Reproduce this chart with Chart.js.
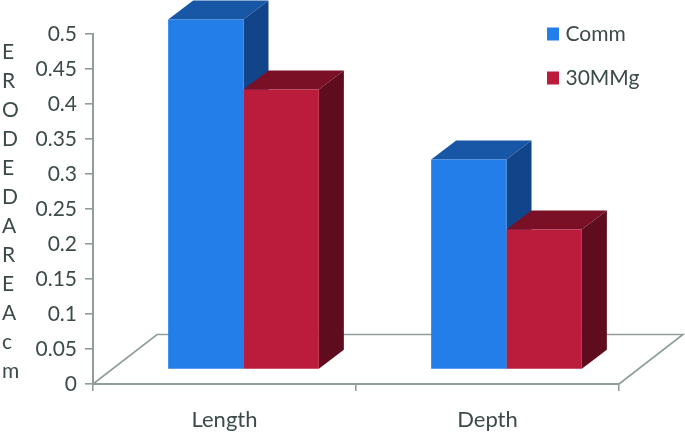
<!DOCTYPE html>
<html>
<head>
<meta charset="utf-8">
<title>Eroded area</title>
<script src="https://cdn.jsdelivr.net/npm/chart.js@4/dist/chart.umd.min.js"></script>
<style>
  html, body { margin: 0; padding: 0; background: #fff; }
  #wrap { width: 685px; height: 434px; }
  #erodedChart { filter: blur(0.5px); }
</style>
</head>
<body>
<div id="wrap"><canvas id="erodedChart" width="685" height="434"></canvas></div>
<script>
const categories = ['Length', 'Depth'];
const commValues = [0.5, 0.3];
const mgValues = [0.4, 0.2];
const tickLabels = ['0', '0.05', '0.1', '0.15', '0.2', '0.25', '0.3', '0.35', '0.4', '0.45', '0.5'];
const yTitleLetters = ['E', 'R', 'O', 'D', 'E', 'D', 'A', 'R', 'E', 'A', 'c', 'm'];

const textColor = '#3d4a4a';
const axisColor = '#8f9e9b';
const fontFamily = 'Lato, "Open Sans", sans-serif';

// faux 3D look: bars sit back from the axis and get a top and side face
const barShift = { x: 19, y: -14.5 };
const barDepth = { x: 25, y: -19 };
const floorDepth = { x: 64, y: -49.5 };

function drawFloor(chart) {
    const ctx = chart.ctx;
    const left = chart.scales.x.left;
    const right = chart.scales.x.right;
    const base = chart.scales.y.getPixelForValue(0);
    ctx.save();
    ctx.strokeStyle = axisColor;
    ctx.lineWidth = 1.6;
    ctx.beginPath();
    ctx.moveTo(left, base);
    ctx.lineTo(left + floorDepth.x, base + floorDepth.y);
    ctx.lineTo(right + floorDepth.x, base + floorDepth.y);
    ctx.lineTo(right, base);
    ctx.stroke();
    ctx.restore();
}

function drawFaces(ctx, bar, ds) {
    const l = bar.x - bar.width / 2;
    const r = bar.x + bar.width / 2;
    ctx.fillStyle = ds.topColor;
    ctx.beginPath();
    ctx.moveTo(l, bar.y);
    ctx.lineTo(l + barDepth.x, bar.y + barDepth.y);
    ctx.lineTo(r + barDepth.x, bar.y + barDepth.y);
    ctx.lineTo(r, bar.y);
    ctx.closePath();
    ctx.fill();
    ctx.fillStyle = ds.sideColor;
    ctx.beginPath();
    ctx.moveTo(r, bar.y);
    ctx.lineTo(r + barDepth.x, bar.y + barDepth.y);
    ctx.lineTo(r + barDepth.x, bar.base + barDepth.y);
    ctx.lineTo(r, bar.base);
    ctx.closePath();
    ctx.fill();
}

const fake3d = {
    id: 'fake3d',
    afterLayout(chart) {
        // put the legend inside the plot, top right
        const legend = chart.legend;
        legend.left = 528;
        legend.right = 685;
        legend.top = 0.5;
        legend.bottom = 200;
    },
    beforeDraw(chart) {
        const ctx = chart.ctx;
        ctx.save();
        ctx.fillStyle = textColor;
        ctx.font = '21px ' + fontFamily;
        ctx.textBaseline = 'middle';
        yTitleLetters.forEach((letter, i) => ctx.fillText(letter, 2, 52 + i * 29));
        ctx.restore();
    },
    beforeDatasetsDraw(chart) {
        const ctx = chart.ctx;
        drawFloor(chart);
        ctx.save();
        ctx.translate(barShift.x, barShift.y);
        // left series first so the red faces land on top of the blue side
        chart.data.datasets.forEach((ds, i) => {
            chart.getDatasetMeta(i).data.forEach(bar => drawFaces(ctx, bar, ds));
        });
        ctx.restore();
    },
    beforeDatasetDraw(chart) {
        chart.ctx.save();
        chart.ctx.translate(barShift.x, barShift.y);
    },
    afterDatasetDraw(chart) {
        chart.ctx.restore();
    }
};

const ctx = document.getElementById('erodedChart').getContext('2d');
const erodedChart = new Chart(ctx, {
    type: 'bar',
    data: {
        labels: categories,
        datasets: [{
            label: 'Comm',
            data: commValues,
            backgroundColor: '#247eea',
            topColor: '#1757a6',
            sideColor: '#12448a',
            clip: false
        }, {
            label: '30MMg',
            data: mgValues,
            backgroundColor: '#bc1c3c',
            topColor: '#7a1026',
            sideColor: '#5e0c1e',
            clip: false
        }]
    },
    options: {
        responsive: false,
        animation: false,
        layout: { padding: { top: 34, right: 66, left: 0, bottom: 0 } },
        datasets: { bar: { barPercentage: 1, categoryPercentage: 0.573 } },
        plugins: {
            title: { display: false },
            tooltip: { enabled: false },
            legend: {
                position: 'chartArea',
                align: 'start',
                padding: 0,
                labels: {
                    // small box with a fat stroke keeps the text close to the swatch
                    boxWidth: 4,
                    boxHeight: 5,
                    padding: 23,
                    color: textColor,
                    font: { family: fontFamily, size: 21 },
                    generateLabels(chart) {
                        return Chart.defaults.plugins.legend.labels.generateLabels(chart).map(item => {
                            item.strokeStyle = item.fillStyle;
                            item.lineWidth = 8;
                            return item;
                        });
                    }
                }
            }
        },
        scales: {
            x: {
                afterFit(scale) { scale.height = 50; },
                grid: { drawOnChartArea: false, color: axisColor, lineWidth: 1.6, tickLength: 7 },
                border: { color: axisColor, width: 2 },
                ticks: { color: textColor, padding: 16, font: { family: fontFamily, size: 22 } }
            },
            y: {
                min: 0,
                max: 0.5,
                afterFit(scale) { scale.width = 93; },
                grid: { drawOnChartArea: false, color: axisColor, lineWidth: 1.6, tickLength: 8 },
                border: { color: axisColor, width: 2 },
                ticks: {
                    stepSize: 0.05,
                    color: textColor,
                    padding: 8,
                    font: { family: fontFamily, size: 21 },
                    callback: (value, index) => tickLabels[index]
                }
            }
        }
    },
    plugins: [fake3d]
});
</script>
</body>
</html>
